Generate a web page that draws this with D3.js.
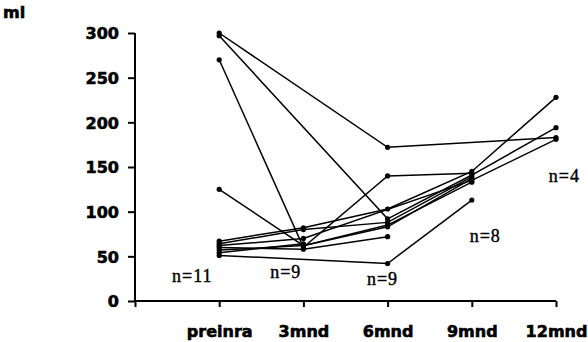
<!DOCTYPE html>
<html>
<head>
<meta charset="utf-8">
<script src="https://cdn.jsdelivr.net/npm/d3@7"></script>
<style>
  html, body { margin: 0; padding: 0; background: #fff; }
  svg text.tick-lbl { font-family: "DejaVu Sans", sans-serif; font-weight: bold; font-size: 16px; fill: #000; stroke: #000; stroke-width: 0.6px; }
  svg text.n-lbl { font-family: "Liberation Serif", "Times New Roman", serif; font-size: 18px; letter-spacing: 1px; fill: #000; stroke: #000; stroke-width: 0.4px; }
</style>
</head>
<body>
<svg id="chart" width="588" height="342"></svg>
<script>
// ── Data ───────────────────────────────────────────────────────────────────
const timepoints = ['preinra', '3mnd', '6mnd', '9mnd', '12mnd'];
const yTicks = [0, 50, 100, 150, 200, 250, 300];

// one row per patient, null = not measured at that timepoint
const patients = [
  [300, null, 172, null, 183],
  [297, null,  92,  141, 194],
  [270,   60, 140,  143, null],
  [125,   62,  83,  137, null],
  [ 67,   82, 103,  145, 228],
  [ 64,   80,  88,  139, null],
  [ 62,   70, null, 135, 181],
  [ 60,   58,  72, null, null],
  [ 57,   62,  85,  133, null],
  [ 51, null,  42,  113, null],
  [ 54,   64, null, null, null]
];

const nCounts = ['n=11', 'n=9', 'n=9', 'n=8', 'n=4'];
// label anchor (x in timepoint units, y in ml)
const nPos = [[0.68, 21], [1.79, 26], [2.94, 18], [4.16, 66], [5.1, 133]];

// ── Scales ─────────────────────────────────────────────────────────────────
const svg = d3.select('#chart');
const x = d3.scaleLinear().domain([0, 5]).range([135, 556]);
const y = d3.scaleLinear().domain([0, 300]).range([301, 33]);

// ── Axes ───────────────────────────────────────────────────────────────────
const yAxis = svg.append('g').attr('transform', `translate(${x(0)},0)`)
  .call(d3.axisLeft(y).tickValues(yTicks).tickSize(7).tickPadding(9).tickFormat(d3.format('d')));
const xAxis = svg.append('g').attr('transform', `translate(0,${y(0)})`)
  .call(d3.axisBottom(x).tickValues([0, 1, 2, 3, 4, 5]).tickSize(6).tickPadding(19)
    .tickFormat(d => d === 0 ? '' : timepoints[d - 1]));

[yAxis, xAxis].forEach(g => {
  g.select('.domain').attr('stroke', '#000').attr('stroke-width', 2);
  g.selectAll('.tick line').attr('stroke', '#000').attr('stroke-width', 2);
  g.selectAll('.tick text').attr('class', 'tick-lbl');
});
// plain axis lines without end caps
yAxis.select('.domain').attr('d', `M0,${y(300)}V${y(0)}`);
xAxis.select('.domain').attr('d', `M${x(0)},0H${x(5)}`);
yAxis.selectAll('.tick text').attr('dy', '0.36em');

svg.append('text').attr('class', 'tick-lbl').attr('x', 3).attr('y', 18).text('ml');

// ── Patient lines ──────────────────────────────────────────────────────────
const line = d3.line().x(d => x(d.t)).y(d => y(d.v));

patients.forEach(row => {
  const pts = row.map((v, i) => ({ t: i + 1, v })).filter(d => d.v !== null);
  svg.append('path').datum(pts)
    .attr('d', line)
    .attr('fill', 'none')
    .attr('stroke', '#000')
    .attr('stroke-width', 1.5);
  svg.selectAll(null).data(pts).join('circle')
    .attr('cx', d => x(d.t))
    .attr('cy', d => y(d.v))
    .attr('r', 2.6)
    .attr('fill', '#000');
});

// ── n labels ───────────────────────────────────────────────────────────────
svg.selectAll('text.n-lbl').data(nCounts).join('text')
  .attr('class', 'n-lbl')
  .attr('x', (d, i) => x(nPos[i][0]))
  .attr('y', (d, i) => y(nPos[i][1]))
  .attr('text-anchor', 'middle')
  .text(d => d);
</script>
</body>
</html>
